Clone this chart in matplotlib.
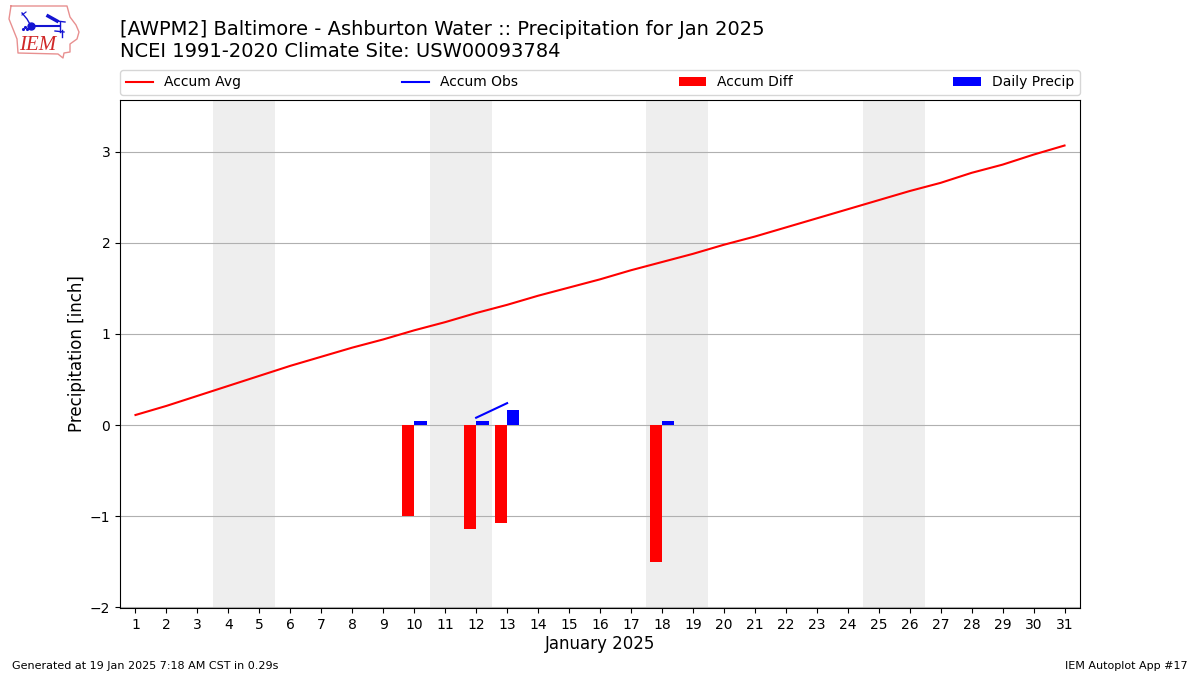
import matplotlib
matplotlib.use('Agg')
import matplotlib.pyplot as plt
import numpy as np

# Data
days = list(range(1, 32))
accum_avg = [0.11, 0.21, 0.32, 0.43, 0.54, 0.65, 0.75, 0.85, 0.94, 1.04,
             1.13, 1.23, 1.32, 1.42, 1.51, 1.60, 1.70, 1.79, 1.88, 1.98,
             2.07, 2.17, 2.27, 2.37, 2.47, 2.57, 2.66, 2.77, 2.86, 2.97, 3.07]
obs_days = [12, 13]
accum_obs = [0.08, 0.24]
precip_days = [10, 12, 13, 18]
accum_diff = [-1.00, -1.14, -1.08, -1.51]
daily_precip = [0.04, 0.04, 0.16, 0.04]
weekends = [(3.5, 5.5), (10.5, 12.5), (17.5, 19.5), (24.5, 26.5)]

title_lines = ["[AWPM2] Baltimore - Ashburton Water :: Precipitation for Jan 2025",
               "NCEI 1991-2020 Climate Site: USW00093784"]

W, H = 1200, 675
fig = plt.figure(figsize=(12, 6.75), dpi=100)
ax = fig.add_axes([120/W, 1-608/H, 960/W, 508/H])

# Weekend shading behind everything
for lo, hi in weekends:
    ax.axvspan(lo, hi, color='#eeeeee', lw=0, zorder=0)

ax.bar(np.array(precip_days)-0.2, accum_diff, width=0.4, color='r', label='Accum Diff', zorder=3)
ax.bar(np.array(precip_days)+0.2, daily_precip, width=0.4, color='b', label='Daily Precip', zorder=3)
ax.plot(days, accum_avg, color='r', lw=1.5, label='Accum Avg', zorder=3)
ax.plot(obs_days, accum_obs, color='b', lw=1.5, label='Accum Obs', zorder=3)

ax.set_xlim(0.5, 31.5)
ax.set_ylim(-2.01, 3.57)
ax.set_xticks(days)
ax.set_yticks([-2, -1, 0, 1, 2, 3])
ax.grid(True, axis='y', color='#b0b0b0', lw=0.8)
ax.set_axisbelow(True)
ax.set_xlabel('January 2025', fontsize=12, labelpad=2.6)
ax.set_ylabel('Precipitation [inch]', fontsize=12, labelpad=2.6)

# Legend order as on the chart
h, l = ax.get_legend_handles_labels()
order = ['Accum Avg', 'Accum Obs', 'Accum Diff', 'Daily Precip']
pairs = [h[l.index(o)] for o in order]
ax.legend(pairs, order, ncol=4, mode='expand', loc='lower left',
          bbox_to_anchor=(0, 1+5/508, 1, 0.05), borderaxespad=0, fontsize=10)

fig.text(120/W, 1-29.5/H, title_lines[0], fontsize=14, va='center')
fig.text(120/W, 1-51.5/H, title_lines[1], fontsize=14, va='center')
fig.text(12/W, 1-666/H, 'Generated at 19 Jan 2025 7:18 AM CST in 0.29s', fontsize=8, va='center')
fig.text(1188/W, 1-666/H, 'IEM Autoplot App #17', fontsize=8, va='center', ha='right')

# Logo, drawn in pixel coordinates on an overlay
lg = fig.add_axes([0, 0, 1, 1], facecolor='none')
lg.set_xlim(0, W)
lg.set_ylim(H, 0)
lg.axis('off')
outline_x = [11, 67, 70, 76, 79, 77, 70, 70, 64, 63, 58, 18, 17, 9, 11]
outline_y = [6, 6, 17, 25, 32, 39, 44, 52, 53, 58, 54, 53, 39, 19, 6]
lg.plot(outline_x, outline_y, color='#e89090', lw=1)
blue = '#1414d2'
lg.plot([31, 60], [26, 26], color=blue, lw=1.5)
lg.plot([60, 60], [22, 32], color=blue, lw=1)
lg.plot([48, 57], [16, 21], color=blue, lw=2.5)
lg.plot([57, 65], [21, 22], color=blue, lw=1)
lg.plot([55, 64], [31, 32], color=blue, lw=1)
lg.plot([62, 62], [30, 37], color=blue, lw=1)
lg.plot([22, 27, 31], [13, 19, 26], color=blue, lw=1)
lg.plot([22, 26], [15, 12], color=blue, lw=0.8)
lg.plot([31], [26], 'o', color=blue, ms=5)
lg.plot([25, 23, 27], [27, 29, 29], '.', color=blue, ms=2.5)
lg.text(38, 45.5, 'IEM', color='#d02828', fontsize=15, family='Liberation Serif',
        style='italic', ha='center', va='center')

fig.savefig('out.png', dpi=100)
